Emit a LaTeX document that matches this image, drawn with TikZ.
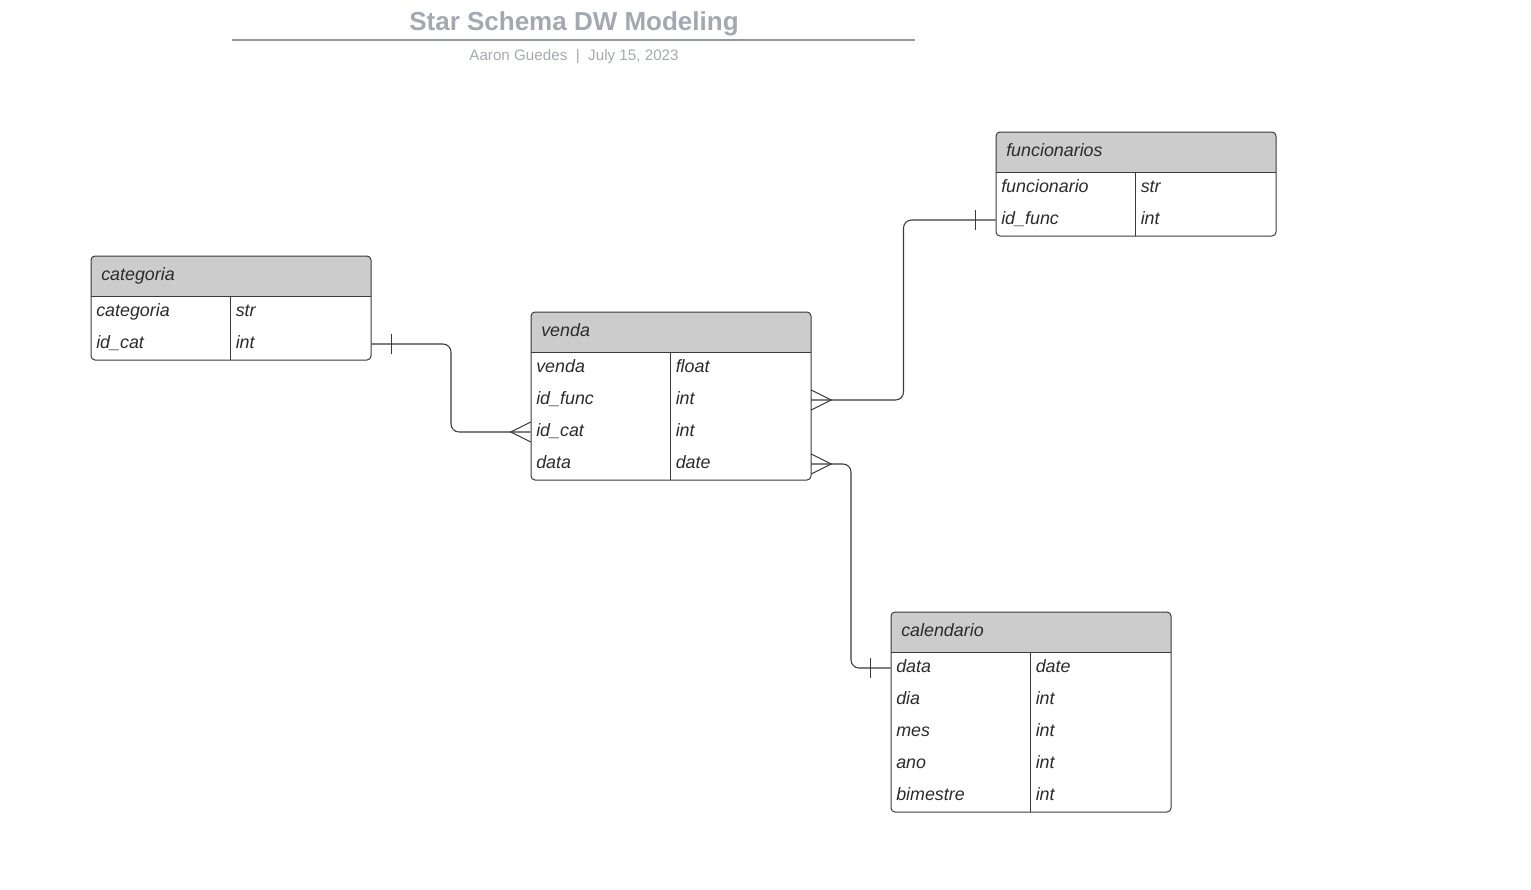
\documentclass[tikz,border=0pt]{standalone}
\usepackage{fontspec}
\setmainfont{Liberation Sans}
\usetikzlibrary{calc}
\definecolor{linec}{HTML}{3A3A3A}
\definecolor{hdrfill}{HTML}{CCCCCC}
\definecolor{txt}{HTML}{2B2B2B}
\definecolor{titlec}{HTML}{A3A8B1}
\definecolor{subc}{HTML}{A5A9B0}
\newcommand\fieldfont{\fontsize{13.4}{16}\selectfont\itshape}
\tikzset{
  ln/.style={draw=linec, line width=0.75pt},
  conn/.style={draw=linec, line width=0.8pt, rounded corners=6pt},
  rowbox/.style={rectangle, minimum width=210pt, minimum height=24pt, inner sep=0pt},
  fld/.style={anchor=base west, inner sep=0pt, font=\fieldfont, text=txt},
}
\newcommand\erbox[5]{%
  \begin{scope}
    \clip[rounded corners=3pt] (#2,#3) rectangle ++(280,40+32*#4);
    \fill[hdrfill] (#2,#3) rectangle ++(280,40);
  \end{scope}
  \node[fld] (#1) at (#2+10,#3+24) {#5};
  \draw[ln] (#2,#3+40) -- ++(280,0);
  \draw[ln] (#2+139,#3+40) -- ++(0,32*#4);
  \draw[ln, rounded corners=3pt] (#2,#3) rectangle ++(280,40+32*#4);
}
\newcommand\errow[5]{%
  \node[rowbox] (#1) at (#2+140,#3+16) {};
  \node[fld] (#1-f) at (#2+5,#3+20.5) {#4};
  \node[fld] (#1-t) at (#2+144.5,#3+20.5) {#5};
}
\begin{document}
\begin{tikzpicture}[x=0.75pt,y=-0.75pt]
\useasboundingbox (0,0) rectangle (1531,889);
% title
\node[anchor=base, inner sep=0pt, text=titlec, font=\fontsize{19.5}{22}\selectfont\bfseries] (title) at (574,30) {Star Schema DW Modeling};
\draw[draw=titlec!90!black, line width=1.5pt] (232,40) coordinate (tl) -- (915,40) coordinate (tr);
\node[anchor=base, inner sep=0pt, text=subc, font=\fontsize{11.4}{14}\selectfont] (sub) at (574,60) {Aaron Guedes~~|~~July 15, 2023};

% funcionarios
\erbox{fun}{996}{132}{2}{funcionarios}
\errow{fun1}{996}{172}{funcionario}{str}
\errow{fun2}{996}{204}{id\_func}{int}

% categoria
\erbox{cat}{91}{256}{2}{categoria}
\errow{cat1}{91}{296}{categoria}{str}
\errow{cat2}{91}{328}{id\_cat}{int}

% venda
\erbox{ven}{531}{312}{4}{venda}
\errow{ven1}{531}{352}{venda}{float}
\errow{ven2}{531}{384}{id\_func}{int}
\errow{ven3}{531}{416}{id\_cat}{int}
\errow{ven4}{531}{448}{data}{date}

% calendario
\erbox{cal}{891}{612}{5}{calendario}
\errow{cal1}{891}{652}{data}{date}
\errow{cal2}{891}{684}{dia}{int}
\errow{cal3}{891}{716}{mes}{int}
\errow{cal4}{891}{748}{ano}{int}
\errow{cal5}{891}{780}{bimestre}{int}

% connectors
\draw[conn] (cat2.east) -| ($(cat2.east)!0.5!(ven3.west)$) |- (ven3.west);
\draw[conn] (ven2.east) -| ($(ven2.east)!0.5!(fun2.west)$) |- (fun2.west);
\draw[conn] (ven4.east) -| ($(ven4.east)!0.5!(cal1.west)$) |- (cal1.west);

% one-bars
\draw[ln] ($(cat2.east)+(20,-10)$) -- ++(0,20);
\draw[ln] ($(fun2.west)+(-20,-10)$) -- ++(0,20);
\draw[ln] ($(cal1.west)+(-20,-10)$) -- ++(0,20);

% crow's feet
\draw[ln] ($(ven3.west)+(0,-10)$) -- ($(ven3.west)+(-20,0)$) -- ($(ven3.west)+(0,10)$);
\draw[ln] ($(ven2.east)+(0,-10)$) -- ($(ven2.east)+(20,0)$) -- ($(ven2.east)+(0,10)$);
\draw[ln] ($(ven4.east)+(0,-10)$) -- ($(ven4.east)+(20,0)$) -- ($(ven4.east)+(0,10)$);
\end{tikzpicture}
\end{document}
